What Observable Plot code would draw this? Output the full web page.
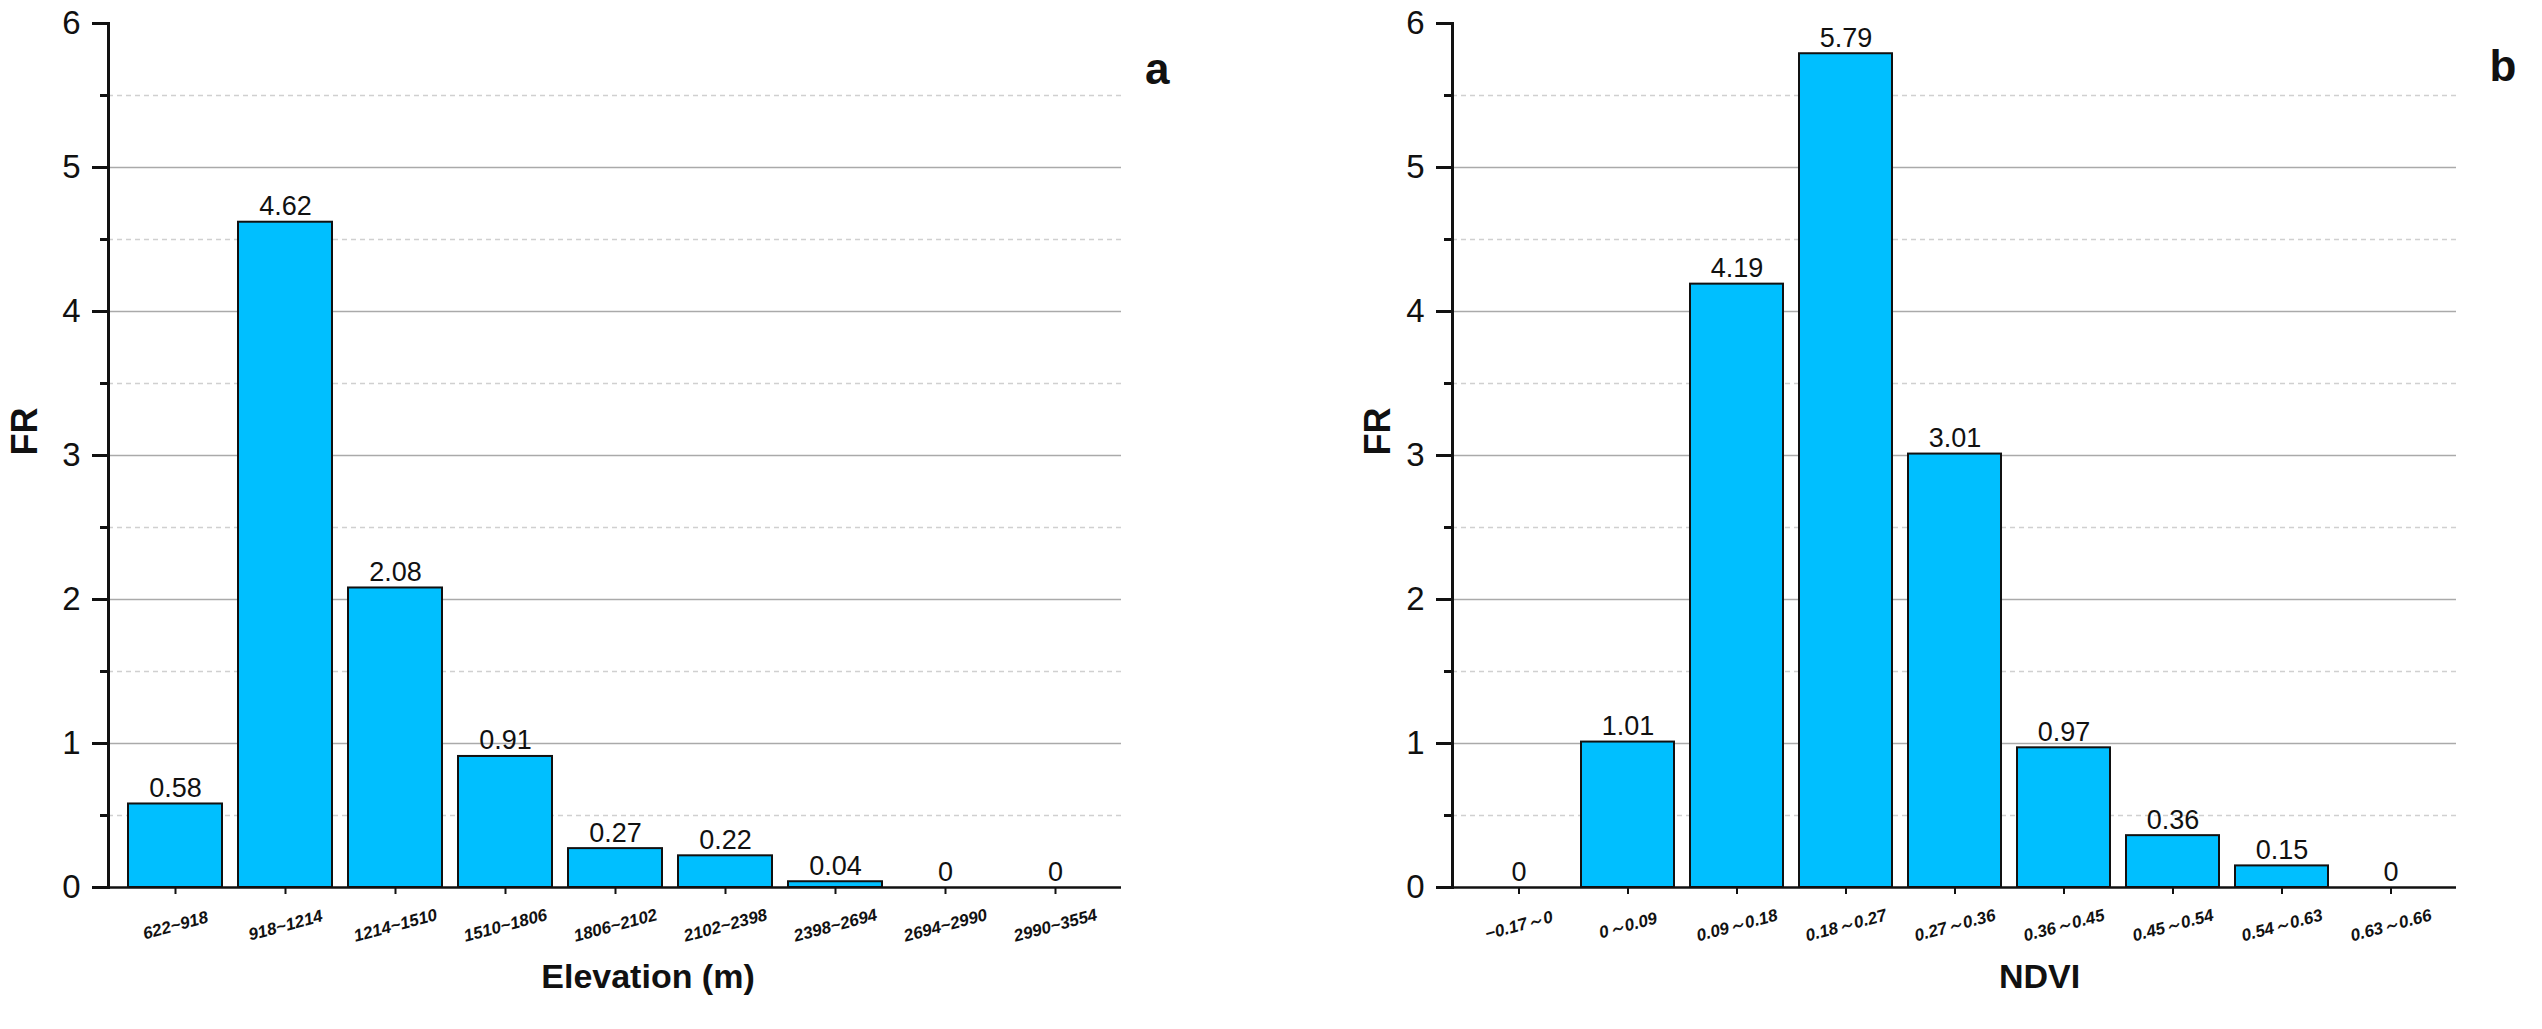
<!DOCTYPE html>
<html>
<head>
<meta charset="utf-8">
<script src="https://cdn.jsdelivr.net/npm/d3@7"></script>
<script src="https://cdn.jsdelivr.net/npm/@observablehq/plot@0.6"></script>
<style>
  html, body { margin: 0; padding: 0; background: #fff; }
  #wrap { display: flex; flex-direction: row; width: 2542px; height: 1029px; }
</style>
</head>
<body>
<div id="wrap"></div>
<script>
const elevCats = ["622~918","918~1214","1214~1510","1510~1806","1806~2102","2102~2398","2398~2694","2694~2990","2990~3554"];
const elevFR = [0.58, 4.62, 2.08, 0.91, 0.27, 0.22, 0.04, 0, 0];
const ndviCats = ["\u22120.17\uff5e0","0\uff5e0.09","0.09\uff5e0.18","0.18\uff5e0.27","0.27\uff5e0.36","0.36\uff5e0.45","0.45\uff5e0.54","0.54\uff5e0.63","0.63\uff5e0.66"];
const ndviFR = [0, 1.01, 4.19, 5.79, 3.01, 0.97, 0.36, 0.15, 0];
const yMajor = [0, 1, 2, 3, 4, 5, 6];
const yMinor = [0.5, 1.5, 2.5, 3.5, 4.5, 5.5];
const yGrid = [1, 2, 3, 4, 5];

function panel(cats, vals, xTitle, tag, opts) {
  const data = cats.map((c, i) => ({cat: c, fr: vals[i]}));
  const font = "'Liberation Sans', Arial, sans-serif";
  return Plot.plot({
    width: 1271,
    height: 1029,
    marginLeft: opts.ml,
    marginRight: opts.mr,
    marginTop: 23,
    marginBottom: 142,
    style: {fontFamily: font, background: "#fff", overflow: "visible"},
    x: {type: "band", domain: cats, padding: 0.15, axis: null},
    y: {domain: [0, 6], axis: null},
    marks: [
      Plot.ruleY(yMinor, {stroke: "#d0d0d0", strokeWidth: 1.5, strokeDasharray: "5,4"}),
      Plot.ruleY(yGrid, {stroke: "#aaaaaa", strokeWidth: 1.5}),
      Plot.barY(data, {x: "cat", y: "fr", fill: "#00BFFF", stroke: "#111", strokeWidth: 2}),
      Plot.text(data, {x: "cat", y: "fr", text: d => String(d.fr), dy: -7, lineAnchor: "bottom", fontSize: 27, fill: "#111"}),
      Plot.axisY({ticks: yMajor, tickSize: 16, tickPadding: 12, tickFormat: d => String(d), fontSize: 33, stroke: "#111", strokeWidth: 3, fill: "#111", label: null}),
      Plot.axisY({ticks: yMinor, tickSize: 8, tickFormat: () => "", stroke: "#111", strokeWidth: 3, label: null}),
      Plot.axisX({tickSize: 7, tickFormat: () => "", stroke: "#111", strokeWidth: 2, label: null}),
      Plot.frame({anchor: "left", stroke: "#111", strokeWidth: 3}),
      Plot.ruleY([0], {stroke: "#111", strokeWidth: 2.5}),
      Plot.text(data, {x: "cat", y: 0, text: "cat", dy: 38, rotate: -15, fontSize: 17, fontWeight: "bold", fontStyle: "italic", fill: "#111"}),
      Plot.text([xTitle], {frameAnchor: "bottom", dy: 100, fontSize: 34, fontWeight: "bold", fill: "#111", dx: opts.tdx}),
      Plot.text(["FR"], {frameAnchor: "left", dx: -opts.frOff, rotate: -90, fontSize: 36, fontWeight: "bold", fill: "#111"}),
      Plot.text([tag], {frameAnchor: "top-right", dx: opts.tagDx, dy: opts.tagDy, fontSize: 44, fontWeight: "bold", fill: "#111"})
    ]
  });
}

const wrap = document.getElementById("wrap");
wrap.appendChild(panel(elevCats, elevFR, "Elevation (m)", "a", {ml: 108, mr: 150, tdx: 33, frOff: 83, tagDx: 48, tagDy: 29}));
wrap.appendChild(panel(ndviCats, ndviFR, "NDVI", "b", {ml: 181, mr: 86, tdx: 85, frOff: 74, tagDx: 60, tagDy: 26}));
</script>
</body>
</html>
